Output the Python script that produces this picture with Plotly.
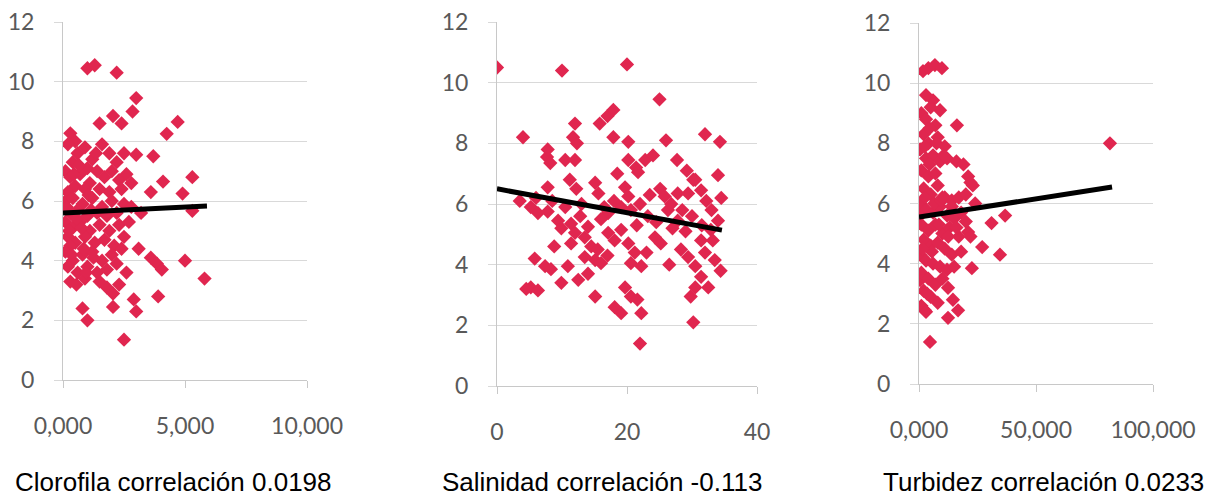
import plotly.graph_objects as go

W, H = 1216, 499
OFF = 8  # page body margin offset in the browser

# ---------------- data ----------------
clorofila_x = [1.0, 1.3, 2.2, 3.0, 2.85, 2.05, 1.5, 2.4, 0.3, 4.25, 4.7, 0.5, 3.0, 3.7, 5.3, 4.1, 3.6, 4.9, 5.3,
               3.1, 3.6, 3.85, 4.05, 5.0, 5.8, 3.9, 2.9, 3.0, 2.05, 0.8, 1.0, 2.5, 1.8, 2.05, 0.55,
               0.2, 0.6, 0.9, 1.2, 1.6, 1.9, 2.2, 0.4, 1.0, 2.5,
               0.1, 0.3, 0.7, 1.1, 1.4, 1.7, 2.0, 2.3, 2.6, 0.5, 0.9, 1.5, 1.9, 2.4, 2.8, 0.2,
               0.1, 0.4, 0.8, 1.2, 1.6, 2.0, 2.5, 0.3, 0.6, 1.0, 1.4, 1.8, 2.2, 2.8, 3.2,
               0.1, 0.4, 0.7, 1.1, 1.5, 1.9, 2.3, 2.7, 0.2, 0.5, 0.9, 1.3, 1.7, 2.1, 2.5, 0.3,
               0.1, 0.4, 0.8, 1.2, 1.6, 2.0, 2.4, 0.2, 0.6, 1.0, 1.4, 1.8, 2.2, 2.6,
               0.3, 0.9, 1.5, 2.3,
               0.15, 0.25, 0.35, 0.45, 0.65, 0.75, 0.85, 1.05, 1.15, 1.25, 1.35, 0.55, 0.95]
clorofila_y = [10.45, 10.55, 10.3, 9.45, 9.0, 8.85, 8.6, 8.6, 8.27, 8.25, 8.65, 8.0, 7.55, 7.5, 6.8, 6.65, 6.3, 6.25, 5.67,
               4.4, 4.1, 3.9, 3.7, 4.0, 3.4, 2.8, 2.7, 2.3, 2.45, 2.4, 2.0, 1.35, 3.1, 2.9, 3.2,
               7.9, 7.6, 7.8, 7.4, 7.9, 7.6, 7.3, 7.3, 7.1, 7.6,
               7.0, 6.8, 6.9, 6.6, 7.0, 6.8, 7.0, 6.7, 6.9, 6.5, 6.4, 6.4, 6.3, 6.4, 6.6, 6.3,
               6.0, 6.1, 5.9, 6.1, 5.8, 6.0, 5.9, 5.6, 5.7, 5.5, 5.6, 5.5, 5.6, 5.8, 5.6,
               5.3, 5.1, 5.3, 5.0, 5.2, 5.0, 5.2, 5.3, 4.8, 4.6, 4.8, 4.6, 4.7, 4.5, 4.8, 4.5,
               4.3, 4.0, 4.2, 4.3, 4.0, 4.2, 4.4, 3.8, 3.6, 3.8, 3.6, 3.7, 3.9, 3.6,
               3.3, 3.4, 3.3, 3.2,
               5.8, 5.0, 4.2, 6.9, 7.2, 5.1, 4.4, 6.2, 5.7, 4.1, 7.6, 5.4, 3.6]
clorofila_trend_x = [0.0, 5.9]
clorofila_trend_y = [5.6, 5.83]

salinidad_x = [0, 10, 20, 25, 4, 17, 17.9, 15.8, 12, 11.7, 12.3, 17.9, 20.2, 26, 32, 34.3, 34, 7.7, 8.2, 7.8, 10.5,
               12, 20.2, 21.4, 22.8, 24, 21.7, 27.7, 29.2, 30.5, 31.4, 32.2, 29.4, 27.8, 7.8, 11.2, 12.2, 15.1,
               15.6, 19.7, 20.2, 25.1, 25.8, 30.2,
               5.2, 6.3, 7.8, 9.4, 9.9, 11.4, 12, 11.4, 13.5, 14, 14.5, 15.5, 15.1, 16, 14, 15.1, 17.1, 18.1,
               19.1, 20.2, 21.2, 20.6, 22.2, 19.7, 20.6, 21.6, 18.1, 19.1, 22.2, 22, 24.3, 25.2, 23.2, 26.3,
               27.8, 28.3, 29.4, 30.5, 31.4, 30.5, 29.8, 30.2, 32, 33.5, 34.4, 32.5, 31.4, 32.9, 34, 5.2, 4.5,
               6.3, 5.8, 7.4, 8.3, 10.9, 9.9, 12.5, 13.5, 17.1, 19.1, 20.6,
               13, 16.5, 18, 22, 23.5, 24.5, 26.8, 28.5, 30, 31.5, 33, 34.5, 29, 27, 21.5, 16, 10.5, 8.5, 6,
               18.5, 33.2, 26.5, 23, 17, 12.8, 8.8, 3.5]
salinidad_y = [10.5, 10.4, 10.6, 9.45, 8.2, 8.9, 9.1, 8.65, 8.65, 8.2, 8.0, 8.2, 8.05, 8.1, 8.3, 8.05, 6.95, 7.55, 7.35,
               7.8, 7.45, 7.45, 7.45, 7.2, 7.45, 7.6, 7.05, 7.45, 7.1, 6.8, 6.45, 6.1, 6.35, 6.35, 6.55, 6.8, 6.5,
               6.7, 6.35, 6.55, 6.25, 6.5, 6.25, 6.8,
               5.9, 5.7, 5.75, 5.45, 5.2, 5.35, 5.05, 4.7, 4.9, 5.25, 4.6, 4.5, 4.15, 4.05, 3.7, 2.95, 5.05, 4.8,
               5.15, 4.7, 4.4, 4.05, 3.95, 3.25, 2.95, 2.85, 2.6, 2.4, 2.4, 1.4, 4.9, 4.7, 5.6, 5.8,
               5.45, 4.5, 4.25, 3.95, 3.6, 3.25, 2.95, 2.1, 4.4, 4.15, 3.8, 3.25, 4.8, 5.15, 5.45, 3.25, 3.2,
               3.15, 4.2, 3.95, 3.85, 3.95, 3.4, 3.5, 4.25, 5.7, 5.9, 5.8,
               6.0, 5.9, 6.1, 6.0, 6.3, 5.4, 6.0, 5.8, 5.6, 5.3, 5.8, 6.2, 5.1, 5.2, 5.3, 5.5, 5.9, 6.1, 6.2,
               7.0, 4.8, 4.0, 4.4, 4.3, 5.6, 4.6, 6.1]
salinidad_trend_x = [0.0, 34.6]
salinidad_trend_y = [6.5, 5.14]

turbidez_x = [81.6, 1.7, 4, 6.8, 9.8, 6, 9, 16.2, 21, 27, 34.6, 36.8, 31, 22.6, 12.4, 16.7, 14.5, 12.4, 4.7, 2.5, 0.5,
              1, 3, 5, 7, 2, 4, 8, 11, 0.5, 3, 6, 9, 12, 16, 19, 1, 4, 7, 21, 23, 2, 5, 8, 11, 14, 17, 20, 24,
              0.5, 3, 6, 9, 12, 15, 18, 1, 4, 7, 10, 13, 17, 2, 5, 8, 11, 14, 18, 0.5, 3, 6, 9, 12, 15, 1, 4,
              7, 10, 2, 5, 8, 1, 3, 0.5, 2.5, 4.5, 6.5, 5.5, 3.5, 9.5, 12.5, 8.5, 1.5, 2.5, 4.5, 14, 16, 20, 22,
              3, 7.5, 10.5, 10, 22]
turbidez_y = [8.0, 10.4, 10.5, 10.6, 10.5, 9.43, 9.1, 8.6, 5.05, 4.55, 4.3, 5.6, 5.35, 3.85, 3.2, 2.45, 2.8, 2.2, 1.4, 2.45, 3.45,
              9.0, 8.8, 9.2, 8.6, 8.3, 8.0, 8.2, 7.9, 7.8, 7.5, 7.6, 7.4, 7.5, 7.4, 7.3, 7.1, 6.9, 7.0, 6.9, 6.6, 6.5, 6.3, 6.6, 6.2, 6.1, 6.2, 6.3, 6.0,
              6.0, 5.8, 5.7, 5.9, 5.6, 5.5, 5.7, 5.3, 5.1, 5.3, 5.0, 5.2, 4.9, 4.8, 4.6, 4.7, 4.5, 4.3, 4.4, 4.3, 4.1, 4.0, 3.9, 3.8, 3.9, 3.7, 3.5,
              3.3, 3.5, 3.1, 2.9, 2.7, 2.6, 2.4, 5.6, 7.9, 8.5, 6.0, 4.4, 3.0, 6.1, 4.9, 5.3, 4.5, 6.2, 7.3, 5.9, 5.2, 5.4, 4.9,
              9.6, 8.0, 7.6, 6.2, 6.7]
turbidez_trend_x = [0.0, 82.5]
turbidez_trend_y = [5.55, 6.55]

titles = ["Clorofila correlación 0.0198", "Salinidad correlación -0.113", "Turbidez correlación 0.0233"]
x_tickvals = [[0, 5, 10], [0, 20, 40], [0, 50, 100]]
x_ticktext = [["0,000", "5,000", "10,000"], ["0", "20", "40"], ["0,000", "50,000", "100,000"]]
x_ranges = [[0, 10], [0, 40], [0, 100]]
y_tickvals = [0, 2, 4, 6, 8, 10, 12]

# ---------------- layout geometry (pixels, in screenshot coords) ----------------
panels_px = [(63, 307, 22, 380), (497, 757, 22, 386), (919, 1153, 23, 384)]
title_cx = [173, 602, 1043]
title_cy = 482

MARKER = "#E0264F"
GRID = "#D9D9D9"
TICKFONT = dict(family="Lato, Open Sans, sans-serif", size=23, color="#595959")


def px_x(v):
    return (v - OFF) / W


def px_y(v):
    return 1 - (v - OFF) / H


fig = go.Figure()
series = [(clorofila_x, clorofila_y, clorofila_trend_x, clorofila_trend_y),
          (salinidad_x, salinidad_y, salinidad_trend_x, salinidad_trend_y),
          (turbidez_x, turbidez_y, turbidez_trend_x, turbidez_trend_y)]

for i, (sx, sy, tx, ty) in enumerate(series):
    suffix = "" if i == 0 else str(i + 1)
    fig.add_trace(go.Scatter(x=sx, y=sy, mode="markers", xaxis="x" + suffix, yaxis="y" + suffix,
                             marker=dict(symbol="diamond", size=11, color=MARKER, line=dict(width=0)),
                             showlegend=False, hoverinfo="x+y"))
    fig.add_trace(go.Scatter(x=tx, y=ty, mode="lines", xaxis="x" + suffix, yaxis="y" + suffix,
                             line=dict(color="black", width=5), showlegend=False))
    x0, x1, ytop, ybot = panels_px[i]
    fig.layout["xaxis" + suffix] = dict(
        domain=[px_x(x0), px_x(x1)], range=x_ranges[i], anchor="y" + suffix, automargin=False,
        tickvals=x_tickvals[i], ticktext=x_ticktext[i], showgrid=False, zeroline=False,
        showline=True, linecolor="#C8C8C8", linewidth=1,
        ticks="outside", ticklen=7, tickcolor="#C8C8C8", ticklabelstandoff=18,
        ticklabeloverflow="allow", tickfont=TICKFONT, fixedrange=True)
    fig.layout["yaxis" + suffix] = dict(
        domain=[px_y(ybot), px_y(ytop)], range=[0, 12], anchor="x" + suffix, automargin=False,
        tickvals=y_tickvals, showgrid=True, gridcolor=GRID, gridwidth=1, zeroline=False,
        showline=True, linecolor="#C8C8C8", linewidth=1,
        ticks="outside", ticklen=8, tickcolor=GRID, ticklabelstandoff=15,
        ticklabeloverflow="allow", tickfont=TICKFONT, fixedrange=True)
    fig.add_annotation(text=titles[i], x=px_x(title_cx[i]), y=px_y(title_cy), xref="paper", yref="paper",
                       xanchor="center", yanchor="middle", showarrow=False,
                       font=dict(family="Liberation Sans, Arial, sans-serif", size=26, color="black"))

fig.update_layout(width=W, height=H, margin=dict(l=0, r=0, t=0, b=0, autoexpand=False),
                  plot_bgcolor="white", paper_bgcolor="white")

fig.write_html("out.html")
